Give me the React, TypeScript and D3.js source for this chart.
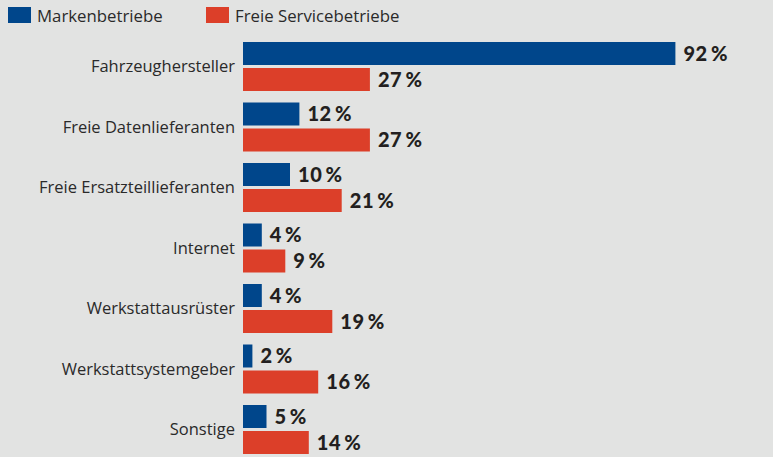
import React from "react";
import * as d3 from "d3";

const categories = [
  "Fahrzeughersteller",
  "Freie Datenlieferanten",
  "Freie Ersatzteillieferanten",
  "Internet",
  "Werkstattausrüster",
  "Werkstattsystemgeber",
  "Sonstige",
];
const markenbetriebe = [92, 12, 10, 4, 4, 2, 5];
const freieService = [27, 27, 21, 9, 19, 16, 14];
const seriesNames = ["Markenbetriebe", "Freie Servicebetriebe"];
const colors = ["#00468b", "#dc3f29"];

const W = 773;
const H = 457;

export default function App() {
  const x = d3.scaleLinear().domain([0, 100]).range([243, 243 + 470]);
  const y = d3
    .scaleBand<string>()
    .domain(categories)
    .range([42, 42 + 60.5 * 7])
    .paddingInner(0)
    .paddingOuter(0);
  const barH = 23;
  const gap = 3;
  const series = [markenbetriebe, freieService];
  const labelFont = "'Open Sans', 'Noto Sans', sans-serif";

  return (
    <svg
      width={W}
      height={H}
      style={{ position: "absolute", left: 0, top: 0, background: "#e2e3e2" }}
    >
      <rect x={0} y={0} width={W} height={H} fill="#e2e3e2" />
      {seriesNames.map((name, i) => {
        const lx = i === 0 ? 8 : 206;
        return (
          <g key={name}>
            <rect x={lx} y={7} width={23} height={16} fill={colors[i]} />
            <text
              x={lx + 29}
              y={21.5}
              fontFamily={labelFont}
              fontWeight={400}
              fontSize={16.8}
              fill="#2a2a2a"
            >
              {name}
            </text>
          </g>
        );
      })}
      {categories.map((c, ci) => {
        const y0 = y(c)!;
        return (
          <g key={c}>
            <text
              x={235}
              y={y0 + barH + gap / 2}
              dy="0.35em"
              textAnchor="end"
              fontFamily={labelFont}
              fontWeight={400}
              fontSize={16.5}
              fill="#2a2a2a"
            >
              {c}
            </text>
            {series.map((s, si) => {
              const by = y0 + si * (barH + gap);
              const v = s[ci];
              return (
                <g key={si}>
                  <rect
                    x={x(0)}
                    y={by}
                    width={x(v) - x(0)}
                    height={barH}
                    fill={colors[si]}
                  />
                  <text
                    x={x(v) + 8}
                    y={by + barH / 2}
                    dy="0.36em"
                    fontFamily="Lato, 'DejaVu Sans', sans-serif"
                    fontWeight={900}
                    fontSize={20}
                    fill="#231f20"
                    letterSpacing={0.6}
                  >
                    {v + "\u2009%"}
                  </text>
                </g>
              );
            })}
          </g>
        );
      })}
    </svg>
  );
}
